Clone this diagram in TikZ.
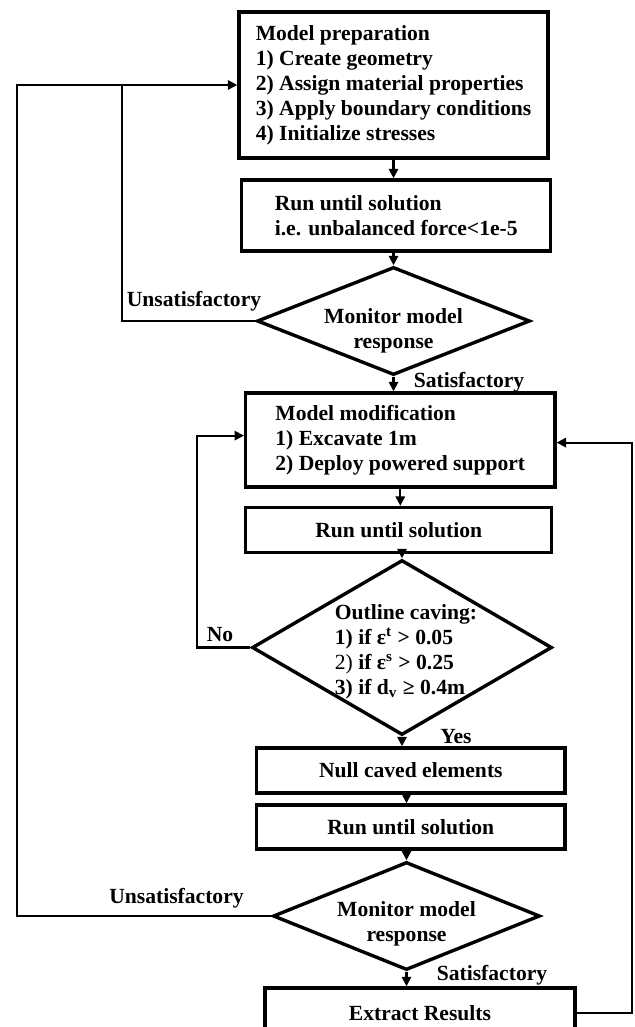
\documentclass[tikz,border=0pt]{standalone}
\usepackage{fontspec}
\setmainfont{Liberation Serif}
\usetikzlibrary{shapes.geometric,arrows.meta}
\tikzset{
	procbox/.style={draw, line width=1.7pt, align=left, inner sep=0pt, font=\bfseries\fontsize{10.8}{12.5}\selectfont},
	decision/.style={draw, diamond, line width=1.7pt, inner sep=0pt},
	tag/.style={inner sep=0pt, font=\bfseries\fontsize{10.8}{12.5}\selectfont},
	flow/.style={line width=1.1pt, -{Triangle[length=4.7pt,width=4.6pt]}},
	link/.style={line width=1.1pt}
}

\begin{document}
\begin{tikzpicture}[x=0.5pt, y=-0.5pt]
	\useasboundingbox (0,0) rectangle (634,1027);

	\node[procbox, minimum width=154.5pt, minimum height=73pt] (prep) at (393.5,85) {Model preparation\\1) Create geometry\\2) Assign material properties\\3) Apply boundary conditions\\4) Initialize stresses};
	\node[procbox, minimum width=154.5pt, minimum height=35.5pt] (run1) at (396.2,215.5) {Run until solution\\i.e. unbalanced force<1e-5};
	\node[decision, minimum width=136.5pt, minimum height=54pt] (mon1) at (393.5,321) {};
	\node[tag, align=center] (mon1txt) at ([yshift=-5pt]mon1) {Monitor model\\response};
	\node[procbox, minimum width=154.6pt, minimum height=47pt] (modif) at (400.3,440) {Model modification\\1) Excavate 1m\\2) Deploy powered support};
	\node[procbox, minimum width=153pt, minimum height=22.5pt] (run2) at (398.7,530) {Run until solution};
	\node[decision, minimum width=150pt, minimum height=87.5pt] (cave) at (402,647.5) {};
	\node[tag, align=left] (cavetxt) at ([xshift=2pt, yshift=-2pt]cave) {Outline caving:\\1) if ε\textsuperscript{t} > 0.05\\{\mdseries 2)} if ε\textsuperscript{s} > 0.25\\3) if d\textsubscript{v} ≥ 0.4m};
	\node[procbox, minimum width=154.2pt, minimum height=22.5pt] (null) at (410.8,770.5) {Null caved elements};
	\node[procbox, minimum width=154.2pt, minimum height=22pt] (run3) at (410.8,827) {Run until solution};
	\node[decision, minimum width=133.5pt, minimum height=54pt] (mon2) at (406.5,916) {};
	\node[tag, align=center] (mon2txt) at ([yshift=-4pt]mon2) {Monitor model\\response};
	\node[procbox, minimum width=155pt, minimum height=25pt] (extract) at (420,1013) {Extract Results};

	\node[tag] (unsat1) at (194,301) {Unsatisfactory};
	\node[tag] (sat1) at (469,382) {Satisfactory};
	\node[tag] (no) at (220,635) {No};
	\node[tag] (yes) at (456,737) {Yes};
	\node[tag] (unsat2) at (176.5,898) {Unsatisfactory};
	\node[tag] (sat2) at (492,975) {Satisfactory};

	\coordinate (outer) at (17.3,85);
	\coordinate (inner) at (121.7,85);
	\coordinate (noleft) at (196.7,647.5);
	\coordinate (backright) at (631.7,1013);

	\draw[flow] (prep.south) -- (prep.south |- run1.north);
	\draw[flow] (run1.south -| mon1.north) -- (mon1.north);
	\draw[flow] (mon1.south) -- (mon1.south |- modif.north);
	\draw[flow] (modif.south) -- (modif.south |- run2.north);
	\draw[flow] (run2.south -| cave.north) -- (cave.north);
	\draw[flow] (cave.south) -- (cave.south |- null.north);
	\draw[flow] (null.south -| mon2.north) -- (mon2.north |- run3.north);
	\draw[flow] (run3.south -| mon2.north) -- (mon2.north);
	\draw[flow] (mon2.south) -- (mon2.south |- extract.north);

	\draw[flow] (mon2.west) -| (outer) -- (prep.west);
	\draw[link] (mon1.west) -| (inner);
	\draw[flow] (cave.west) -- (noleft) |- ([yshift=2.2pt]modif.west);
	\draw[flow] (extract.east) -- (backright) |- ([yshift=-1.3pt]modif.east);

\end{tikzpicture}
\end{document}
